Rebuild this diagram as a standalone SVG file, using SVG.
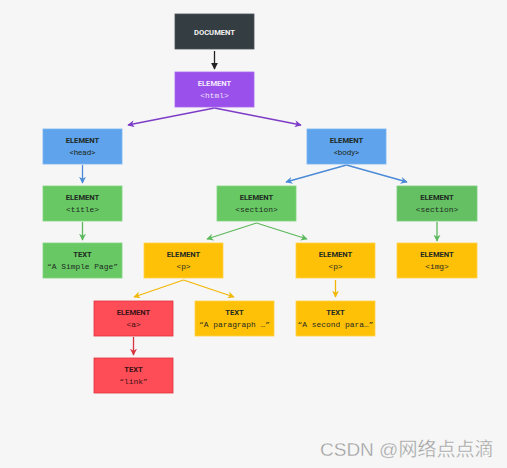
<svg xmlns="http://www.w3.org/2000/svg" width="507" height="468" viewBox="0 0 507 468">
<style>
.t{font-family:Roboto,"Liberation Sans",sans-serif;font-weight:700;font-size:7.6px;text-anchor:middle}
.m{font-family:"Liberation Mono","DejaVu Sans Mono",monospace;font-size:7.9px;text-anchor:middle}
.s{font-family:Roboto,"Liberation Sans",sans-serif;font-size:8px;text-anchor:middle}
.dark{fill:#1e2a22}
.c line{stroke-width:1.3;fill:none}
</style>
<defs>
<marker id="ak" viewBox="0 0 10 10" refX="9" refY="5" markerWidth="7" markerHeight="7" orient="auto-start-reverse" markerUnits="userSpaceOnUse"><path d="M0,0L10,5L0,10z" fill="#222"/></marker>
<marker id="ap" viewBox="0 0 10 10" refX="9" refY="5" markerWidth="7" markerHeight="7" orient="auto" markerUnits="userSpaceOnUse"><path d="M0,0L10,5L0,10L3,5z" fill="#7d3cc8"/></marker>
<marker id="ab" viewBox="0 0 10 10" refX="9" refY="5" markerWidth="7" markerHeight="7" orient="auto" markerUnits="userSpaceOnUse"><path d="M0,0L10,5L0,10L3,5z" fill="#4a8ad6"/></marker>
<marker id="ag" viewBox="0 0 10 10" refX="9" refY="5" markerWidth="7" markerHeight="7" orient="auto" markerUnits="userSpaceOnUse"><path d="M0,0L10,5L0,10L3,5z" fill="#5cb85c"/></marker>
<marker id="ay" viewBox="0 0 10 10" refX="9" refY="5" markerWidth="7" markerHeight="7" orient="auto" markerUnits="userSpaceOnUse"><path d="M0,0L10,5L0,10L3,5z" fill="#f2b705"/></marker>
<marker id="ar" viewBox="0 0 10 10" refX="9" refY="5" markerWidth="7" markerHeight="7" orient="auto" markerUnits="userSpaceOnUse"><path d="M0,0L10,5L0,10L3,5z" fill="#d9333d"/></marker>
</defs>
<rect width="507" height="468" fill="#f6f6f6"/>

<g id="connectors" class="c">
<line x1="214.5" y1="51" x2="214.5" y2="69" stroke="#222" marker-end="url(#ak)"/>
<line x1="214.5" y1="108" x2="128" y2="125" stroke="#7d3cc8" marker-end="url(#ap)"/>
<line x1="214.5" y1="108" x2="301" y2="125" stroke="#7d3cc8" marker-end="url(#ap)"/>
<line x1="82.5" y1="165" x2="82.5" y2="183" stroke="#4a8ad6" marker-end="url(#ab)"/>
<line x1="346.5" y1="165" x2="286" y2="182" stroke="#4a8ad6" marker-end="url(#ab)"/>
<line x1="346.5" y1="165" x2="407" y2="182" stroke="#4a8ad6" marker-end="url(#ab)"/>
<line x1="82.5" y1="222" x2="82.5" y2="240" stroke="#5cb85c" marker-end="url(#ag)"/>
<line x1="256.5" y1="223" x2="207" y2="239" stroke="#5cb85c" marker-end="url(#ag)"/>
<line x1="256.5" y1="223" x2="307" y2="239" stroke="#5cb85c" marker-end="url(#ag)"/>
<line x1="437" y1="222" x2="437" y2="241" stroke="#5cb85c" marker-end="url(#ag)"/>
<line x1="183.5" y1="280" x2="134" y2="297" stroke="#f2b705" marker-end="url(#ay)"/>
<line x1="183.5" y1="280" x2="234" y2="297" stroke="#f2b705" marker-end="url(#ay)"/>
<line x1="335.5" y1="280" x2="335.5" y2="297" stroke="#f2b705" marker-end="url(#ay)"/>
<line x1="133.5" y1="337" x2="133.5" y2="355" stroke="#d9333d" marker-end="url(#ar)"/>
</g>

<g id="document"><rect x="175" y="14" width="79" height="35" fill="#343d42" stroke="#4a5358" stroke-width="0.8"/><text class="t" x="214.5" y="34.5" fill="#f2f2f2">DOCUMENT</text></g>
<g id="html"><rect x="175" y="72" width="79" height="35" fill="#9a50ea" stroke="#a868ee" stroke-width="0.8"/><text class="t" x="214.5" y="86" fill="#f4eaff">ELEMENT</text><text class="m" x="214.5" y="98" fill="#f0e2ff">&lt;html&gt;</text></g>
<g id="head"><rect x="43" y="129" width="79" height="35" fill="#5ea3ec" stroke="#77b2f0" stroke-width="0.8"/><text class="t dark" x="82.5" y="143">ELEMENT</text><text class="s dark" x="82.5" y="155">&lt;head&gt;</text></g>
<g id="body"><rect x="307" y="129" width="79" height="35" fill="#5ea3ec" stroke="#77b2f0" stroke-width="0.8"/><text class="t dark" x="346.5" y="143">ELEMENT</text><text class="s dark" x="346.5" y="155">&lt;body&gt;</text></g>
<g id="title"><rect x="43" y="186" width="79" height="35" fill="#68c964" stroke="#80d47c" stroke-width="0.8"/><text class="t dark" x="82.5" y="200">ELEMENT</text><text class="m dark" x="82.5" y="212">&lt;title&gt;</text></g>
<g id="section1"><rect x="217" y="186" width="79" height="35" fill="#68c964" stroke="#80d47c" stroke-width="0.8"/><text class="t dark" x="256.5" y="200">ELEMENT</text><text class="m dark" x="256.5" y="212">&lt;section&gt;</text></g>
<g id="section2"><rect x="397" y="186" width="80" height="35" fill="#64c063" stroke="#7ccc7a" stroke-width="0.8"/><text class="t dark" x="437" y="200">ELEMENT</text><text class="m dark" x="437" y="212">&lt;section&gt;</text></g>
<g id="text-title"><rect x="43" y="243" width="79" height="35" fill="#68c964" stroke="#80d47c" stroke-width="0.8"/><text class="t dark" x="82.5" y="257">TEXT</text><text class="m dark" x="82.5" y="269">“A Simple Page”</text></g>
<g id="p1"><rect x="144" y="243" width="79" height="35" fill="#ffc107" stroke="#ffd04a" stroke-width="0.8"/><text class="t dark" x="183.5" y="257">ELEMENT</text><text class="m dark" x="183.5" y="269">&lt;p&gt;</text></g>
<g id="p2"><rect x="296" y="243" width="79" height="35" fill="#ffc107" stroke="#ffd04a" stroke-width="0.8"/><text class="t dark" x="335.5" y="257">ELEMENT</text><text class="m dark" x="335.5" y="269">&lt;p&gt;</text></g>
<g id="img"><rect x="397" y="243" width="80" height="35" fill="#ffc107" stroke="#ffd04a" stroke-width="0.8"/><text class="t dark" x="437" y="257">ELEMENT</text><text class="m dark" x="437" y="269">&lt;img&gt;</text></g>
<g id="a"><rect x="94" y="301" width="79" height="35" fill="#ff4d57" stroke="#e0343e" stroke-width="0.8"/><text class="t" x="133.5" y="315" fill="#3a1215">ELEMENT</text><text class="m" x="133.5" y="327" fill="#3a1215">&lt;a&gt;</text></g>
<g id="text-para1"><rect x="195" y="301" width="79" height="35" fill="#ffc107" stroke="#ffd04a" stroke-width="0.8"/><text class="t dark" x="234.5" y="315">TEXT</text><text class="m dark" x="234.5" y="327">“A paragraph …”</text></g>
<g id="text-para2"><rect x="296" y="301" width="79" height="35" fill="#ffc107" stroke="#ffd04a" stroke-width="0.8"/><text class="t dark" x="335.5" y="315">TEXT</text><text class="m dark" x="335.5" y="327">“A second para…”</text></g>
<g id="text-link"><rect x="94" y="358" width="79" height="35" fill="#ff4d57" stroke="#e0343e" stroke-width="0.8"/><text class="t" x="133.5" y="372" fill="#3a1215">TEXT</text><text class="m" x="133.5" y="384" fill="#3a1215">“link”</text></g>

<text x="320" y="456" font-family="'Liberation Sans','Noto Sans CJK SC',sans-serif" font-size="19" fill="#9c9c9c" stroke="#ffffff" stroke-width="0.3">CSDN @网络点点滴</text>
</svg>
